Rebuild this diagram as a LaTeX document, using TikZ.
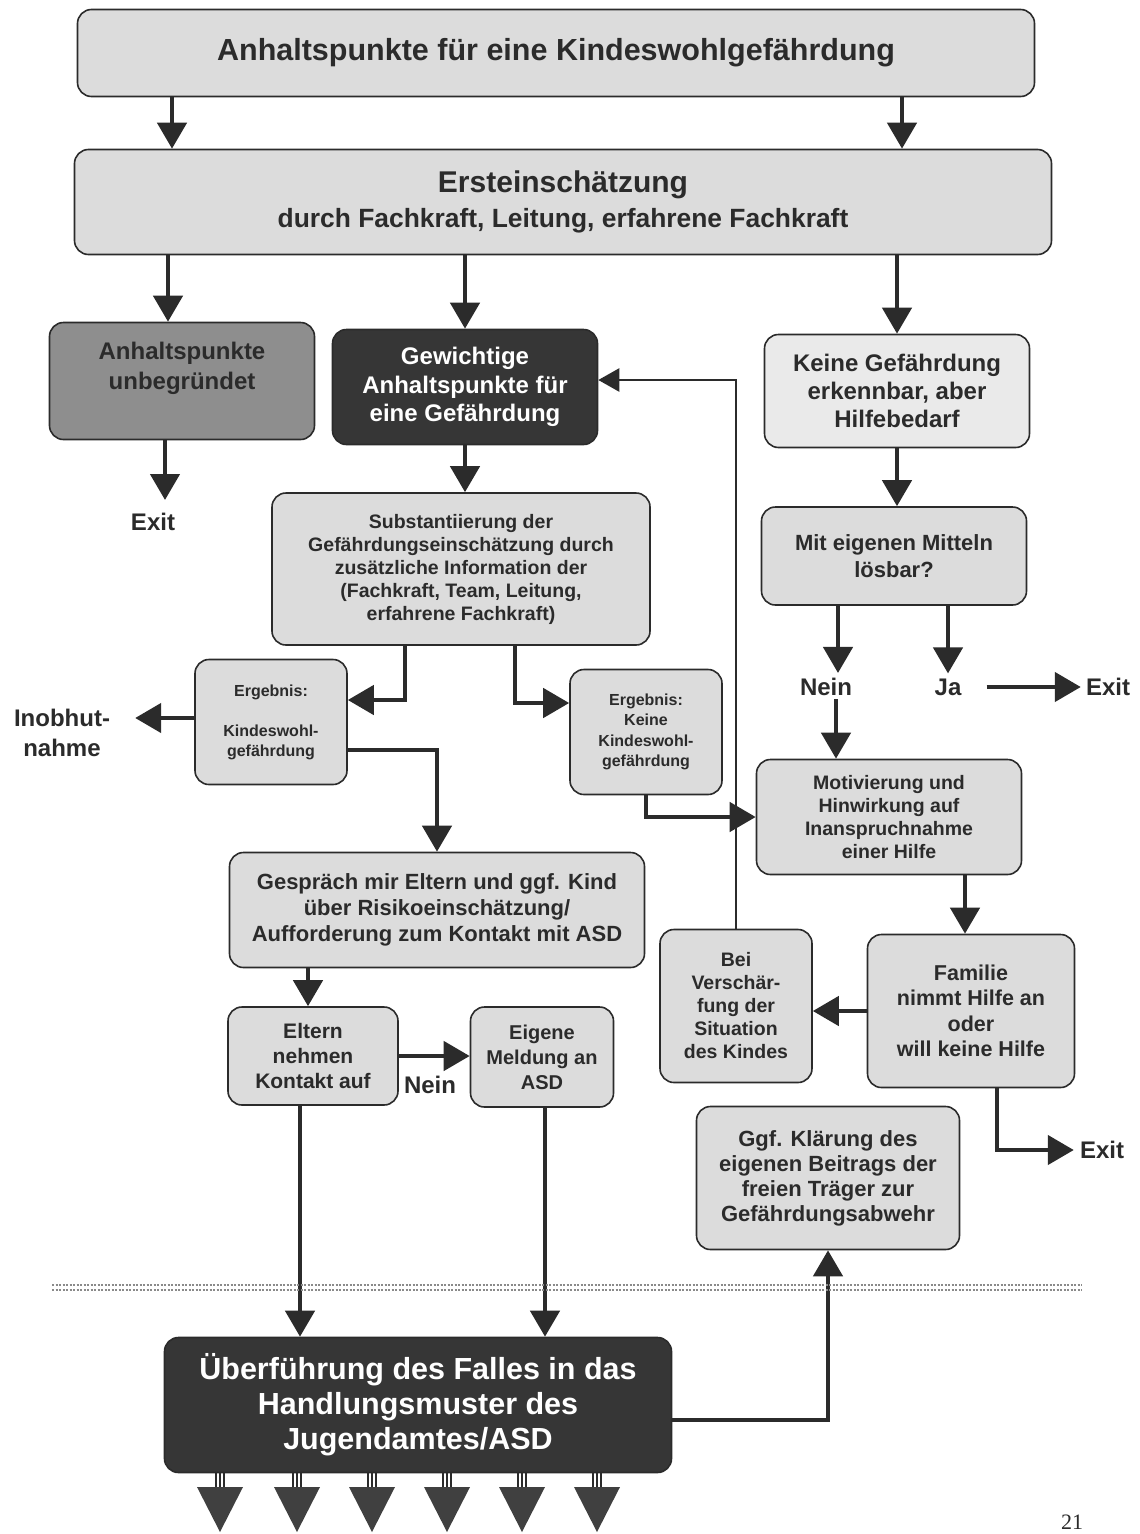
\documentclass[tikz,border=0pt]{standalone}
\usepackage{fontspec}
\setmainfont{Liberation Sans}
\newfontfamily\pagefont{Liberation Serif}
\usetikzlibrary{arrows.meta, positioning}

\definecolor{ink}{HTML}{2B2B2B}
\definecolor{boxlight}{HTML}{DCDCDC}
\definecolor{boxpale}{HTML}{EAEAEA}
\definecolor{boxmid}{HTML}{8E8E8E}
\definecolor{boxdark}{HTML}{363636}
\definecolor{rule}{HTML}{8A8A8A}

\tikzset{
  box/.style={draw=ink, line width=1.6pt, rounded corners=14pt, fill=boxlight,
              align=center, inner sep=0pt, text=ink},
  darkbox/.style={box, fill=boxdark, text=white},
  sz/.style 2 args={minimum width=#1pt, minimum height=#2pt},
  fs/.style 2 args={font=\bfseries\fontsize{#1}{#2}\selectfont},
  lbl/.style={text=ink, fs={24}{30}, align=center, inner sep=1pt},
  flow/.style={draw=ink, line width=4.5pt, -{Triangle[length=26pt,width=29pt]}},
  thinflow/.style={draw=ink, line width=2.6pt, -{Triangle[length=21pt,width=23pt]}},
}

\begin{document}
\begin{tikzpicture}[x=1pt, y=-1pt]
    \fill[white] (0,0) rectangle (1140,1534);
    \useasboundingbox (0,0) rectangle (1140,1534);

    % boxes
    \node[box, sz={957}{87}, fs={30.5}{34}]              (alert)     at (556,53)   {Anhaltspunkte für eine Kindeswohlgefährdung};
    \node[box, sz={977}{105}, fs={26.4}{35}]             (first)     at (563,202)  {{\fontsize{30}{35}\selectfont Ersteinschätzung}\\durch Fachkraft, Leitung, erfahrene Fachkraft};
    \node[box, fill=boxmid, sz={265}{117}, fs={24}{30}]  (unfounded) at (182,381)  {Anhaltspunkte\\unbegründet\\~};
    \node[darkbox, sz={265}{115}, fs={24}{28.5}]         (weighty)   at (465,387)  {Gewichtige\\Anhaltspunkte für\\eine Gefährdung};
    \node[box, fill=boxpale, sz={265}{113}, fs={24}{28}] (nodanger)  at (897,391)  {Keine Gefährdung\\erkennbar, aber\\Hilfebedarf};
    \node[box, sz={378}{152}, fs={19.5}{23}]             (subst)     at (461,569)  {Substantiierung der\\Gefährdungseinschätzung durch\\zusätzliche Information der\\(Fachkraft, Team, Leitung,\\erfahrene Fachkraft)};
    \node[box, sz={265}{98}, fs={22}{27}]                (means)     at (894,556)  {Mit eigenen Mitteln\\lösbar?};
    \node[box, sz={152}{125}, fs={16}{20}]               (resultyes) at (271,722)  {Ergebnis:\\~\\Kindeswohl-\\gefährdung};
    \node[box, sz={152}{125}, fs={16}{20.5}]             (resultno)  at (646,732)  {Ergebnis:\\Keine\\Kindeswohl-\\gefährdung};
    \node[box, sz={265}{115}, fs={19.5}{23}]             (motivate)  at (889,817)  {Motivierung und\\Hinwirkung auf\\Inanspruchnahme\\einer Hilfe};
    \node[box, sz={415}{115}, fs={22}{26}]               (talk)      at (437,910)  {Gespräch mir Eltern und ggf. Kind\\über Risikoeinschätzung/\\Aufforderung zum Kontakt mit ASD};
    \node[box, sz={170}{98}, fs={21}{25}]                (parents)   at (313,1056) {Eltern\\nehmen\\Kontakt auf};
    \node[box, sz={143}{100}, fs={20}{25}]               (report)    at (542,1057) {Eigene\\Meldung an\\ASD};
    \node[box, sz={152}{153}, fs={19.5}{23}]             (worse)     at (736,1006) {Bei\\Verschär-\\fung der\\Situation\\des Kindes};
    \node[box, sz={207}{153}, fs={21.5}{25.5}]           (family)    at (971,1011) {Familie\\nimmt Hilfe an\\oder\\will keine Hilfe};
    \node[box, sz={263}{143}, fs={22}{25}]               (clarify)   at (828,1178) {Ggf. Klärung des\\eigenen Beitrags der\\freien Träger zur\\Gefährdungsabwehr};
    \node[darkbox, sz={507}{135}, fs={30.5}{35}]         (transfer)  at (418,1405) {Überführung des Falles in das\\Handlungsmuster des\\Jugendamtes/ASD};

    % labels
    \node[lbl] (exitleft)    at (153,522)  {Exit};
    \node[lbl] (inobhut)     at (62,733)   {Inobhut-\\nahme};
    \node[lbl] (neinmeans)   at (826,687)  {Nein};
    \node[lbl] (jameans)     at (948,687)  {Ja};
    \node[lbl] (exitja)      at (1108,687) {Exit};
    \node[lbl] (neinparents) at (430,1085) {Nein};
    \node[lbl] (exitfam)     at (1102,1150) {Exit};
    \node[text=ink, font=\pagefont\fontsize{22}{24}\selectfont] (pagenum) at (1072,1522) {21};

    % columns of the vertical arrows
    \coordinate (xa) at (172,0);
    \coordinate (xb) at (902,0);
    \coordinate (xc) at (168,0);
    \coordinate (xe) at (165,0);
    \coordinate (xf) at (838,0);
    \coordinate (xg) at (405,0);
    \coordinate (xh) at (515,0);
    \coordinate (xi) at (308,0);
    \coordinate (xj) at (300,0);
    \coordinate (xk) at (545,0);
    \coordinate (xl) at (965,0);
    \coordinate (xm) at (997,0);
    \coordinate (xn) at (836,0);

    \draw[flow] (alert.south -| xa) -- (first.north -| xa);
    \draw[flow] (alert.south -| xb) -- (first.north -| xb);
    \draw[flow] (first.south -| xc) -- (unfounded.north -| xc);
    \draw[flow] (first.south -| weighty.north) -- (weighty.north);
    \draw[flow] (first.south -| nodanger.north) -- (nodanger.north);
    \draw[flow, shorten >=12pt] (unfounded.south -| xe) -- (exitleft.north -| xe);
    \draw[flow] (weighty.south) -- (subst.north -| weighty.south);
    \draw[flow] (nodanger.south) -- (means.north -| nodanger.south);
    \draw[flow, shorten >=4pt] (means.south -| xf) -- (neinmeans.north -| xf);
    \draw[flow, shorten >=4pt] (means.south -| jameans) -- (jameans.north);
    \draw[flow, shorten <=24pt, shorten >=4pt] (jameans.east) -- (exitja.west);
    \draw[flow, shorten <=2pt] (neinmeans.south -| xn) -- (motivate.north -| xn);
    \draw[flow] (subst.south -| xg) |- ([yshift=22pt]resultyes.east);
    \draw[flow] (subst.south -| xh) |- ([yshift=29pt]resultno.west);
    \draw[flow, shorten >=24pt] ([yshift=4pt]resultyes.west) -- ([yshift=4pt]resultyes.west -| inobhut.east);
    \draw[flow] ([yshift=-28pt]resultyes.east) -| (talk.north);
    \draw[flow] (resultno.south) |- (motivate.west);
    \draw[flow] (talk.south -| xi) -- (parents.north -| xi);
    \draw[flow] (parents.east) -- (parents.east -| report.west);
    \draw[flow] (parents.south -| xj) -- (transfer.north -| xj);
    \draw[flow] (report.south -| xk) -- (transfer.north -| xk);
    \draw[flow] ([yshift=-15pt]transfer.east) -| (clarify.south);
    \draw[flow] (motivate.south -| xl) -- (family.north -| xl);
    \draw[flow] (family.west) -- (family.west -| worse.east);
    \draw[thinflow] (worse.north) |- ([yshift=7pt]weighty.east);
    \draw[flow, shorten >=5pt] (family.south -| xm) |- (exitfam.west);

    % dividing line
    \draw[rule, line width=1.6pt, dash pattern=on 2pt off 1.5pt] (52,1285) -- (1082,1285);
    \draw[rule, line width=1.6pt, dash pattern=on 2pt off 1.5pt] (52,1290) -- (1082,1290);

    % outgoing arrows
    \foreach \x in {220,297,372,447,522,597} {
        \draw[ink, line width=1.8pt] (\x-4,1473) -- (\x-4,1488) (\x,1473) -- (\x,1488) (\x+4,1473) -- (\x+4,1488);
        \fill[ink!90] (\x-23,1487) -- (\x+23,1487) -- (\x,1532) -- cycle;
    }
\end{tikzpicture}
\end{document}
